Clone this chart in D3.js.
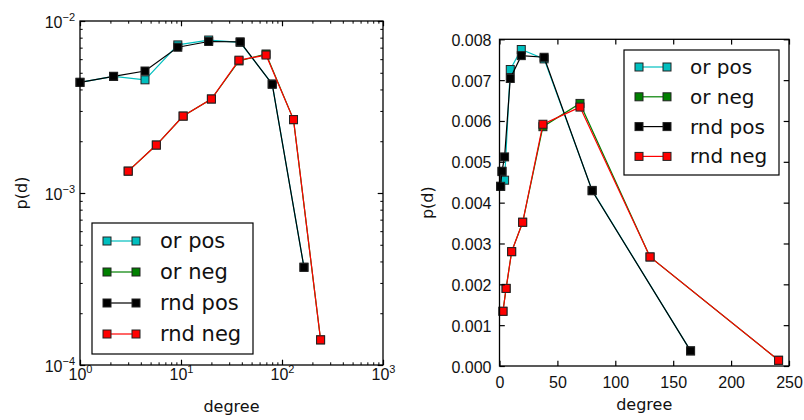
<!DOCTYPE html>
<html>
<head>
<meta charset="utf-8">
<script src="https://cdn.jsdelivr.net/npm/d3@7"></script>
<style>
body { margin: 0; background: #fff; }
svg { font-family: "DejaVu Sans", sans-serif; }
</style>
</head>
<body>
<svg id="chart" width="804" height="420"></svg>
<script>
// degree bins and p(d) values
var posDegree = [1, 2.15, 4.4, 9.3, 18.8, 38.5, 80, 165];
var orPos  = [0.0044, 0.00476, 0.00455, 0.00726, 0.00775, 0.00752, 0.0043, 0.00037];
var rndPos = [0.0044, 0.00477, 0.00512, 0.00704, 0.0076, 0.00756, 0.00429, 0.00037];
var negDegree = [3, 5.7, 10.5, 20, 37.5, 69.5, 130, 241];
var orNeg  = [0.00134, 0.0019, 0.0028, 0.00352, 0.00586, 0.00643, 0.00267, 0.00014];
var rndNeg = [0.00134, 0.0019, 0.0028, 0.00352, 0.00592, 0.00634, 0.00267, 0.00014];

var seriesNames = ["or pos", "or neg", "rnd pos", "rnd neg"];
var seriesColors = ["#00bfbf", "#008000", "#000000", "#ff0000"];

var logTicksX = [1, 10, 100, 1000];
var logTicksY = [1e-4, 1e-3, 1e-2];
var linTicksX = [0, 50, 100, 150, 200, 250];
var linTicksY = [0, 0.001, 0.002, 0.003, 0.004, 0.005, 0.006, 0.007, 0.008];

var series = [
  {name: seriesNames[0], color: seriesColors[0], x: posDegree, y: orPos},
  {name: seriesNames[1], color: seriesColors[1], x: negDegree, y: orNeg},
  {name: seriesNames[2], color: seriesColors[2], x: posDegree, y: rndPos},
  {name: seriesNames[3], color: seriesColors[3], x: negDegree, y: rndNeg}
];

var svg = d3.select("#chart");
var MS = 8; // marker size

function minorTicks(majors) {
  var out = [];
  for (var i = 0; i < majors.length - 1; i++)
    for (var k = 2; k < 10; k++) out.push(majors[i] * k);
  return out;
}

function supLabel(sel, exps) {
  sel.each(function(d, i) {
    var t = d3.select(this).text(null);
    t.append("tspan").text("10");
    t.append("tspan").attr("dy", -7).attr("font-size", 11).text(exps[i]);
  });
}

function drawPanel(p) {
  var g = svg.append("g");
  var x = p.x, y = p.y;
  var x0 = x.range()[0], x1 = x.range()[1], y0 = y.range()[0], y1 = y.range()[1];

  // series: line then markers, in plotting order
  series.forEach(function(s) {
    var pts = s.x.map(function(v, i) { return [v, s.y[i]]; });
    g.append("path")
      .datum(pts)
      .attr("fill", "none")
      .attr("stroke", s.color)
      .attr("stroke-width", 1.2)
      .attr("d", d3.line().x(function(d) { return x(d[0]); }).y(function(d) { return y(d[1]); }));
    g.selectAll(null).data(pts).enter().append("rect")
      .attr("x", function(d) { return x(d[0]) - MS / 2; })
      .attr("y", function(d) { return y(d[1]) - MS / 2; })
      .attr("width", MS).attr("height", MS)
      .attr("fill", s.color)
      .attr("stroke", "#222").attr("stroke-width", 1);
  });

  // ticks pointing inwards on all four sides
  var sides = [
    {gen: d3.axisBottom(x), tr: "translate(0," + y0 + ")", label: true},
    {gen: d3.axisTop(x), tr: "translate(0," + y1 + ")"},
    {gen: d3.axisLeft(y), tr: "translate(" + x0 + ",0)", label: true},
    {gen: d3.axisRight(y), tr: "translate(" + x1 + ",0)"}
  ];
  sides.forEach(function(sd, i) {
    var isX = i < 2;
    var ax = g.append("g").attr("transform", sd.tr)
      .call(sd.gen.tickValues(isX ? p.xTicks : p.yTicks).tickSize(-5.3).tickSizeOuter(0));
    ax.select(".domain").remove();
    ax.selectAll("line").attr("stroke", "#000").attr("stroke-width", 1.2);
    var txt = ax.selectAll("text").attr("fill", "#111").attr("font-size", 16);
    if (!sd.label) { txt.remove(); }
    else if (isX) {
      txt.attr("dy", null).attr("y", p.xLabelY);
      if (p.log) supLabel(txt, ["0", "1", "2", "3"]);
      else txt.text(function(d) { return d3.format("d")(d); });
    } else {
      txt.attr("dy", null).attr("y", 6).attr("x", -p.yLabelPad);
      if (p.log) supLabel(txt, ["\u22124", "\u22123", "\u22122"]);
      else txt.text(function(d) { return d3.format(".3f")(d); });
    }
    if (p.log) {
      var m = g.append("g").attr("transform", sd.tr)
        .call(sd.gen.tickValues(minorTicks(isX ? p.xTicks : p.yTicks)).tickSize(-2.7).tickFormat(""));
      m.select(".domain").remove();
      m.selectAll("line").attr("stroke", "#000").attr("stroke-width", 1);
    }
  });

  // frame
  g.append("rect")
    .attr("x", x0).attr("y", y1).attr("width", x1 - x0).attr("height", y0 - y1)
    .attr("fill", "none").attr("stroke", "#000").attr("stroke-width", 1.3);

  // axis labels
  g.append("text")
    .attr("x", (x0 + x1) / 2).attr("y", p.xTitleY)
    .attr("text-anchor", "middle").attr("font-size", 16).attr("fill", "#111")
    .text("degree");
  g.append("text")
    .attr("transform", "translate(" + p.yTitleX + "," + (y0 + y1) / 2 + ") rotate(-90)")
    .attr("text-anchor", "middle").attr("font-size", 16).attr("fill", "#111")
    .text("p(d)");

  // legend
  var L = p.legend;
  g.append("rect")
    .attr("x", L.x).attr("y", L.y).attr("width", L.w).attr("height", L.h)
    .attr("fill", "#fff").attr("stroke", "#000").attr("stroke-width", 1.2);
  series.forEach(function(s, i) {
    var cy = L.first + i * L.step;
    g.append("line")
      .attr("x1", L.m1).attr("x2", L.m2).attr("y1", cy).attr("y2", cy)
      .attr("stroke", s.color).attr("stroke-width", 1.2);
    [L.m1, L.m2].forEach(function(mx) {
      g.append("rect")
        .attr("x", mx - MS / 2).attr("y", cy - MS / 2).attr("width", MS).attr("height", MS)
        .attr("fill", s.color).attr("stroke", "#222").attr("stroke-width", 1);
    });
    g.append("text")
      .attr("x", L.tx).attr("y", cy + 7)
      .attr("font-size", L.fs).attr("fill", "#111")
      .text(s.name);
  });
}

// left: log-log
drawPanel({
  log: true,
  x: d3.scaleLog().domain([1, 1000]).range([80, 383]),
  y: d3.scaleLog().domain([1e-4, 1e-2]).range([365, 21]),
  xTicks: logTicksX, yTicks: logTicksY,
  xLabelY: 15, yLabelPad: 5,
  xTitleY: 412, yTitleX: 27,
  legend: {x: 92, y: 223, w: 161, h: 131, first: 241, step: 31, m1: 107, m2: 136, tx: 160, fs: 21}
});

// right: linear
drawPanel({
  log: false,
  x: d3.scaleLinear().domain([0, 250]).range([499.5, 789]),
  y: d3.scaleLinear().domain([0, 0.008]).range([366, 39.3]),
  xTicks: linTicksX, yTicks: linTicksY,
  xLabelY: 22, yLabelPad: 8,
  xTitleY: 410, yTitleX: 433,
  legend: {x: 624, y: 50, w: 155, h: 125, first: 67, step: 29.8, m1: 639, m2: 667, tx: 690, fs: 20}
});
</script>
</body>
</html>
